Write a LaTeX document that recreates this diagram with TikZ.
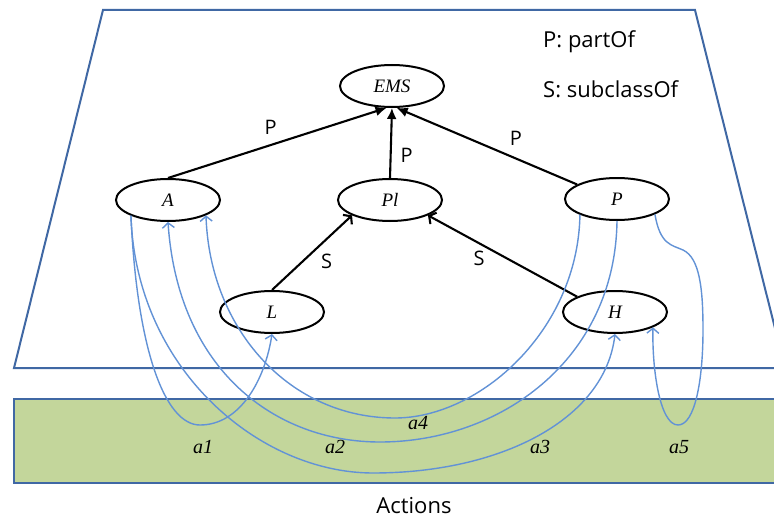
\documentclass[tikz,border=0pt]{standalone}
\usepackage{fontspec}
\setmainfont{Liberation Serif}
\newfontfamily\labelsans{Open Sans}
\usetikzlibrary{arrows.meta,shapes.geometric}
\definecolor{planeblue}{RGB}{64,104,164}
\definecolor{linkblue}{RGB}{98,146,214}
\definecolor{actgreen}{RGB}{195,214,155}
\begin{document}
\begin{tikzpicture}[x=1pt,y=-1pt,
  concept/.style={ellipse,draw=black,line width=2pt,fill=white,
    minimum width=104pt,minimum height=42pt,inner sep=0pt,
    font=\fontsize{19}{22}\selectfont\itshape},
  rel/.style={draw=black,line width=2.1pt},
  partrel/.style={rel,-{Latex[length=11pt,width=10pt]}},
  subrel/.style={rel,-{Straight Barb[length=5pt,width=13pt]}},
  elabel/.style={inner sep=0pt,font=\labelsans\fontsize{20}{24}\selectfont},
  legend/.style={inner sep=0pt,font=\labelsans\fontsize{22}{26}\selectfont},
  link/.style={draw=linkblue,line width=1.4pt},
  linkarrow/.style={link,-{Straight Barb[length=5pt,width=12pt]}},
  actlabel/.style={inner sep=0pt,font=\fontsize{20}{24}\selectfont\itshape},
  layer/.style={draw=planeblue,line width=2pt}
]
\useasboundingbox (0,0) rectangle (774,519);

% ontology plane and action layer
\begin{scope}
  \clip (0,0) rectangle (774,519);
  \draw[layer,fill=white] (103,10) -- (695,10) -- (785,368) -- (14,368) -- cycle;
  \draw[layer,fill=actgreen] (14,399) rectangle (790,483);
\end{scope}

% concepts
\node[concept] (EMS) at (392,86) {EMS};
\node[concept] (A) at (168,200) {A};
\node[concept] (Pl) at (390,200) {Pl};
\node[concept] (P) at (617,199) {P};
\node[concept] (L) at (272,312) {L};
\node[concept] (H) at (615,312) {H};

% partOf / subclassOf relations
\draw[partrel] (A.north) -- node[elabel,pos=0.47,above=9pt] {P} (EMS.-104);
\draw[partrel] (Pl.north) -- node[elabel,pos=0.33,right=9pt] {P} (EMS.south);
\draw[partrel] (P.160) -- node[elabel,pos=0.34,above=12pt] {P} (EMS.-78);
\draw[subrel] (L.north) -- node[elabel,pos=0.55,below right=4pt] {S} (Pl.-158);
\draw[subrel] (H.158) -- node[elabel,pos=0.6,below left=2pt] {S} (Pl.-22);

% legend
\node[legend,anchor=base west] (legP) at (543,48) {P: partOf};
\node[legend,anchor=base west] (legS) at (543,97) {S: subclassOf};

% actions linking concepts
\draw[linkarrow] (A.-157) .. controls (137,350) and (165,425) .. (200,425)
  .. controls (240,425) and (265,380) .. (L.south);
\draw[linkarrow] (P.south) .. controls (615,360) and (500,442) .. (380,442)
  .. controls (275,442) and (178,370) .. (A.south);
\draw[linkarrow] (A.-157) .. controls (136,370) and (260,473) .. (373,473)
  .. controls (500,473) and (605,420) .. (H.south);
\draw[linkarrow] (P.-157) .. controls (578,330) and (480,418) .. (395,418)
  .. controls (290,418) and (210,330) .. (A.-22);
\draw[linkarrow] (P.-22) .. controls (660,245) and (672,245) .. (683,250)
  .. controls (700,258) and (703,290) .. (703,330)
  .. controls (703,380) and (695,425) .. (678,425)
  .. controls (660,425) and (652,370) .. (H.-22);

% action names
\node[actlabel] (n1) at (203,447) {a1};
\node[actlabel] (n2) at (335,447) {a2};
\node[actlabel] (n3) at (540,447) {a3};
\node[actlabel] (n4) at (418,423) {a4};
\node[actlabel] (n5) at (679,447) {a5};

\node[legend,anchor=base] (act) at (414,513) {Actions};
\end{tikzpicture}
\end{document}
